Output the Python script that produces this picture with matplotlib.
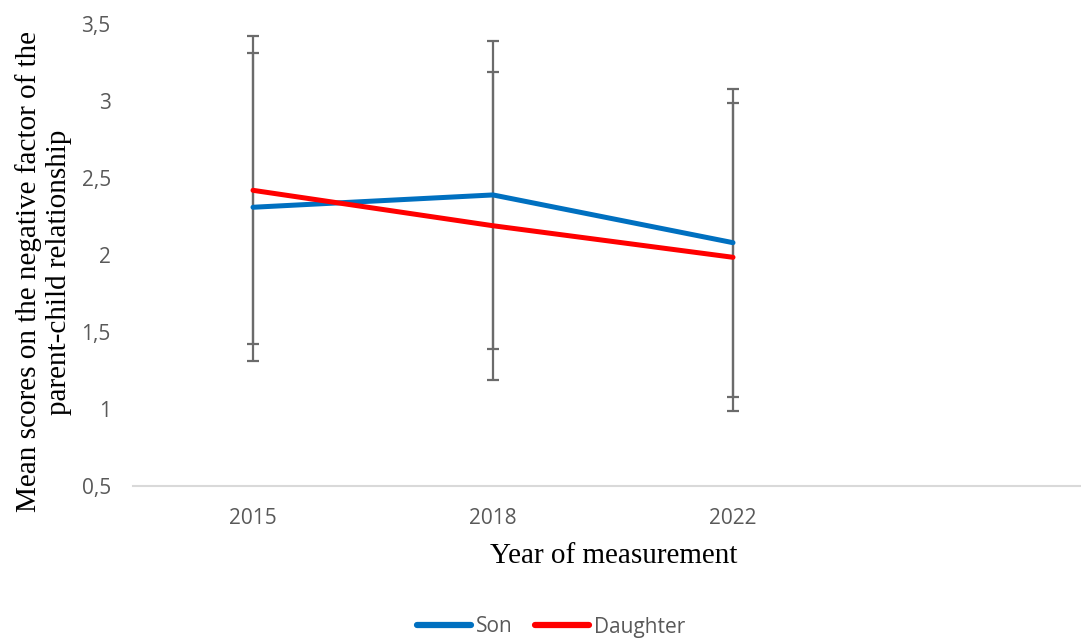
import matplotlib
matplotlib.use("Agg")
import matplotlib.pyplot as plt

years = ["2015", "2018", "2022"]
son = [2.31, 2.39, 2.08]
daughter = [2.42, 2.19, 1.985]
son_err = [1.0, 1.0, 1.0]
daughter_err = [1.0, 1.0, 1.0]

blue = "#0070C0"
red = "#FF0000"
bar_col = "#6b6b6b"
tick_col = "#595959"

fig = plt.figure(figsize=(10.81, 6.38), dpi=100)
ax = fig.add_axes([133 / 1081, 1 - 486 / 638, 1 - 133 / 1081, (486 - 24) / 638])

x = list(range(len(years)))

ax.errorbar(x, son, yerr=son_err, fmt="none", ecolor=bar_col, elinewidth=1.6,
            capsize=4.5, capthick=1.6, zorder=2)
ax.errorbar(x, daughter, yerr=daughter_err, fmt="none", ecolor=bar_col, elinewidth=1.6,
            capsize=4.5, capthick=1.6, zorder=2)
ax.plot(x, son, color=blue, lw=3.6, solid_capstyle="round", label="Son", zorder=3)
ax.plot(x, daughter, color=red, lw=3.6, solid_capstyle="round", label="Daughter", zorder=3)

ax.set_xlim(-0.5, 3.45)
ax.set_ylim(0.5, 3.5)
ax.set_xticks(x)
ax.set_xticklabels(years)
yt = [0.5, 1, 1.5, 2, 2.5, 3, 3.5]
ax.set_yticks(yt)
ax.set_yticklabels(["0,5", "1", "1,5", "2", "2,5", "3", "3,5"])

for s in ["top", "right", "left"]:
    ax.spines[s].set_visible(False)
ax.spines["bottom"].set_color("#d9d9d9")
ax.spines["bottom"].set_linewidth(1.5)
ax.tick_params(axis="both", length=0, colors=tick_col, labelsize=15)
ax.tick_params(axis="y", pad=16)
ax.tick_params(axis="x", pad=16)
for lab in ax.get_xticklabels() + ax.get_yticklabels():
    lab.set_fontfamily("Open Sans")

fig.text(0.04, 1 - 272 / 638,
         "Mean scores on the negative factor of the\nparent-child relationship",
         rotation=90, ha="center", va="center", multialignment="center",
         fontsize=21, family="Liberation Serif", linespacing=1.2)
fig.text(614 / 1081, 1 - 556 / 638, "Year of measurement", ha="center", va="center",
         fontsize=21, family="Liberation Serif")

leg = fig.legend(loc="center", bbox_to_anchor=(551 / 1081, 1 - 627 / 638), ncol=2, frameon=False,
                 prop={"family": "Open Sans", "size": 15}, handlelength=2.6,
                 handletextpad=0.2, columnspacing=1.1)
for line in leg.get_lines():
    line.set_linewidth(4.5)
for t in leg.get_texts():
    t.set_color(tick_col)

fig.savefig("out.png", dpi=100)
